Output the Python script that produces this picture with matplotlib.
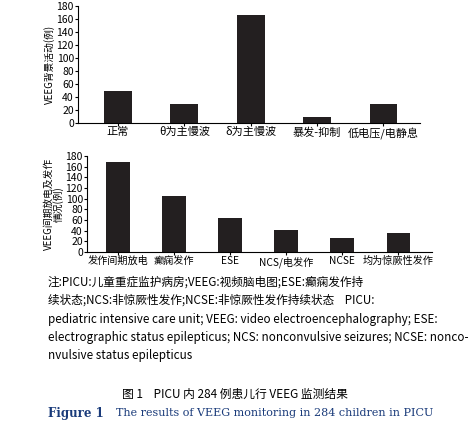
import matplotlib
matplotlib.use('Agg')
import matplotlib.pyplot as plt

plt.rcParams['font.family'] = ['Noto Sans CJK SC', 'DejaVu Sans']

cats1 = ['正常', 'θ为主慢波', 'δ为主慢波', '暴发-抑制', '低电压/电静息']
vals1 = [50, 29, 166, 9, 29]
cats2 = ['发作间期放电', '癫痫发作', 'ESE', 'NCS/电发作', 'NCSE', '均为惊厥性发作']
vals2 = [168, 105, 63, 41, 26, 35]
ticks = list(range(0, 181, 20))

W, H = 469, 426
fig = plt.figure(figsize=(W / 100, H / 100), dpi=100)


def style(ax, xsize):
    ax.spines['top'].set_visible(False)
    ax.spines['right'].set_visible(False)
    ax.set_ylim(0, 180)
    ax.set_yticks(ticks)
    ax.tick_params(labelsize=7.5, length=2, pad=1)
    ax.tick_params(axis='x', labelsize=xsize)


ax1 = fig.add_axes([78 / W, 1 - 123 / H, (420 - 78) / W, 117 / H])
ax1.bar(range(len(cats1)), vals1, width=0.42, color='#231f20')
ax1.set_xticks(range(len(cats1)))
ax1.set_xticklabels(cats1)
ax1.set_xlim(-0.6, len(cats1) - 0.45)
style(ax1, 8)
ax1.set_ylabel('VEEG背景活动(例)', fontsize=7, labelpad=1)

ax2 = fig.add_axes([87 / W, 1 - 252 / H, (432 - 87) / W, 96 / H])
ax2.bar(range(len(cats2)), vals2, width=0.42, color='#231f20')
ax2.set_xticks(range(len(cats2)))
ax2.set_xticklabels(cats2)
ax2.set_xlim(-0.55, len(cats2) - 0.4)
style(ax2, 7.3)
ax2.set_ylabel('VEEG间期放电及发作\n情况(例)', fontsize=7, labelpad=1, linespacing=0.9)

lines = [
    '注:PICU:儿童重症监护病房;VEEG:视频脑电图;ESE:癫痫发作持',
    '续状态;NCS:非惊厥性发作;NCSE:非惊厥性发作持续状态    PICU:',
    'pediatric intensive care unit; VEEG: video electroencephalography; ESE:',
    'electrographic status epilepticus; NCS: nonconvulsive seizures; NCSE: nonco-',
    'nvulsive status epilepticus',
]
y = 282
for ln in lines:
    fig.text(48 / W, 1 - y / H, ln, fontsize=8.4, va='center', ha='left')
    y += 18.5
fig.text(235 / W, 1 - 394 / H, '图 1    PICU 内 284 例患儿行 VEEG 监测结果',
         fontsize=8.5, ha='center', va='center')
fig.text(48 / W, 1 - 413 / H, 'Figure 1', fontsize=8.5, fontweight='bold',
         family='DejaVu Serif', va='center', color='#1a3b7a')
fig.text(116 / W, 1 - 413 / H, 'The results of VEEG monitoring in 284 children in PICU',
         fontsize=8, family='DejaVu Serif', va='center', color='#1a3b7a')

fig.savefig('out.png', dpi=100)
